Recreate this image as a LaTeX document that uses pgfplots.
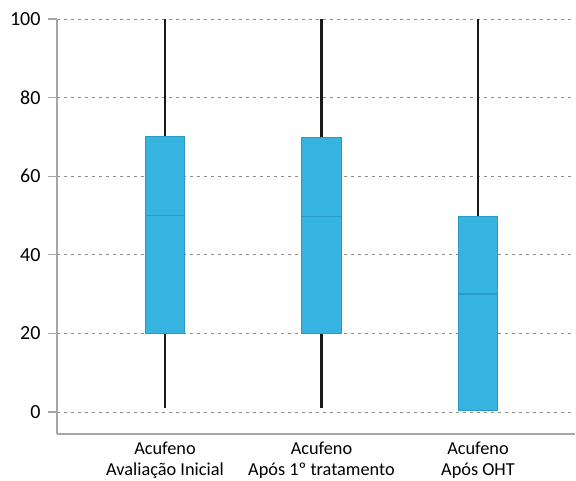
\documentclass[border=0pt]{standalone}
\usepackage{fontspec}
\setmainfont{Carlito}
\usepackage{pgfplots}
\pgfplotsset{compat=1.18}
\usepgfplotslibrary{statistics}
\definecolor{boxfill}{HTML}{35B4DF}
\definecolor{boxedge}{HTML}{2A9AC4}
\definecolor{axgray}{HTML}{A6A6A6}
\definecolor{gridgray}{HTML}{8C8C8C}
\begin{document}
\begin{tikzpicture}
\begin{axis}[
  name=ax,
  scale only axis,
  width=518pt, height=415pt,
  xmin=0.31, xmax=3.62,
  ymin=-5.6, ymax=100,
  axis x line=bottom, axis y line=left,
  axis line style={-, axgray, line width=1.2pt},
  ytick={0,20,40,60,80,100},
  xtick={1,2,3},
  xticklabels={{Acufeno\\Avaliação Inicial},{Acufeno\\Após 1º tratamento},{Acufeno\\Após OHT}},
  xticklabel style={align=center, font=\fontsize{18.3}{21.5}\selectfont, yshift=5pt},
  yticklabel style={font=\fontsize{20}{22}\selectfont, xshift=-4pt},
  /pgf/number format/assume math mode=true,
  xtick style={draw=none},
  ytick style={axgray, line width=1.2pt},
  tick align=outside,
  major tick length=9pt,
  ymajorgrids,
  grid style={gridgray, line width=0.8pt, dash pattern=on 3pt off 4pt},
  boxplot/draw direction=y,
  boxplot/box extend=0.25,
  boxplot/whisker extend=0,
  boxplot/every box/.style={draw=boxedge, fill=boxfill, line width=0.9pt},
  boxplot/every median/.style={draw=boxedge, line width=1.2pt},
  boxplot/every whisker/.style={draw=black!90, line width=2.2pt},
]
\addplot+[boxplot prepared={draw position=1, lower whisker=1, lower quartile=20, median=50, upper quartile=70, upper whisker=100}, mark=none] coordinates {};
\addplot+[boxplot prepared={draw position=2, lower whisker=1, lower quartile=20, median=49.7, upper quartile=69.8, upper whisker=100}, mark=none] coordinates {};
\addplot+[boxplot prepared={draw position=3, lower whisker=0.5, lower quartile=0.5, median=30, upper quartile=49.8, upper whisker=100}, mark=none] coordinates {};
\end{axis}
\pgfresetboundingbox
\path ([shift={(-57pt,-47pt)}]ax.south west) rectangle ++(576pt,481pt);
\end{tikzpicture}
\end{document}
